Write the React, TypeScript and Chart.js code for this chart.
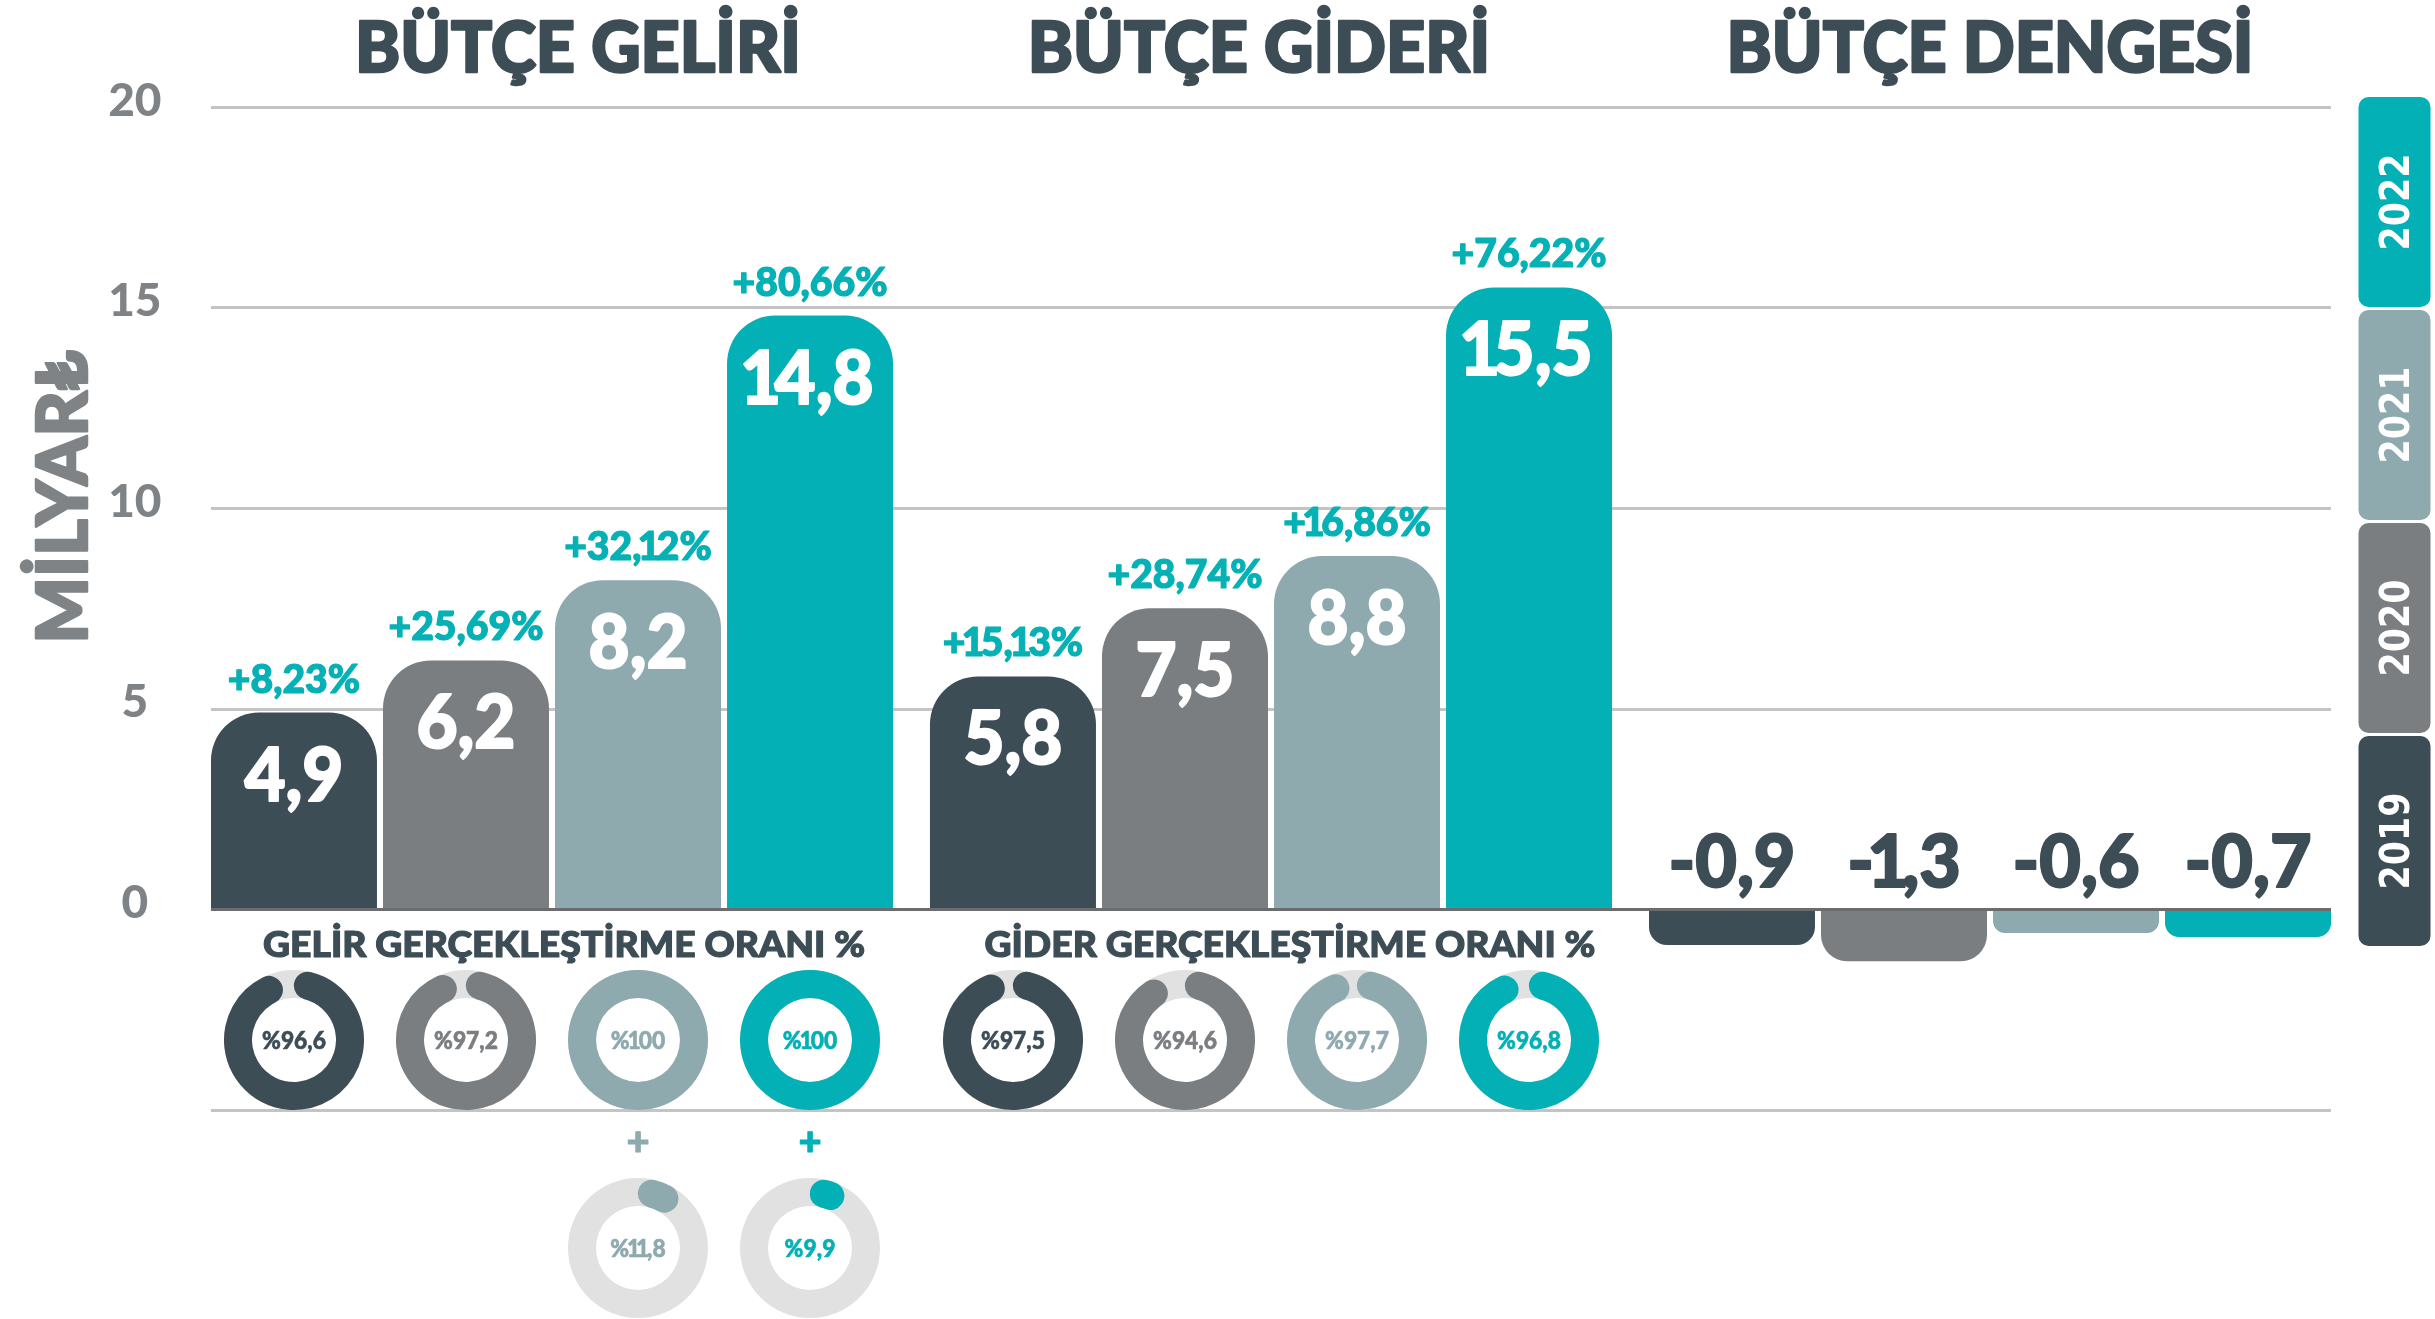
import React, { useEffect, useRef, useState } from 'react';
import { Chart, registerables } from 'chart.js';

Chart.register(...registerables);

// ---------- DATA ----------
const groups = ['BÜTÇE GELİRİ', 'BÜTÇE GİDERİ', 'BÜTÇE DENGESİ'];
const years = ['2019', '2020', '2021', '2022'];
const yearColors = ['#3d4d56', '#7b7e81', '#8eaaae', '#03b0b5'];

// milyar ₺ : [gelir, gider, denge]
const values2019 = [4.9, 5.8, -0.9];
const values2020 = [6.2, 7.5, -1.3];
const values2021 = [8.2, 8.8, -0.6];
const values2022 = [14.8, 15.5, -0.7];

const incomeGrowth = [8.23, 25.69, 32.12, 80.66];
const expenseGrowth = [15.13, 28.74, 16.86, 76.22];

const realizationTitles = ['GELİR GERÇEKLEŞTİRME ORANI %', 'GİDER GERÇEKLEŞTİRME ORANI %'];
const incomeRealization = [96.6, 97.2, 100, 100];
const expenseRealization = [97.5, 94.6, 97.7, 96.8];
const extraIncomeRealization = [null, null, 11.8, 9.9];

const yAxisTitle = 'MİLYAR₺';
const Y_MIN = -5;
const Y_MAX = 20;
const Y_STEP = 5;

// ---------- STYLE ----------
const W = 2435;
const H = 1319;
const DARK = '#3d4d56';
const TEAL = '#05b1b5';
const TICK_GRAY = '#7f8386';
const GRID = '#c4c4c4';
const ZERO_LINE = '#6b6c6e';
const RING = '#e1e1e1';
const HEAVY = '"Lato", "Liberation Sans", "Noto Sans", sans-serif';
const LEGEND_FONT = '"DejaVu Sans Condensed", "DejaVu Sans", sans-serif';
const TITLE_DX = [26, -12, 0];
const SUB_DX = [12, 19];
const DONUT_SIZE = 140;
const ONE_NARROW = 0.68;

const allValues = [values2019, values2020, values2021, values2022];
const growthByGroup = [incomeGrowth, expenseGrowth];
const realizationByGroup = [incomeRealization, expenseRealization];

const fmt1 = (v: number) => v.toFixed(1).replace('.', ',');
const fmtPct = (v: number) => '+' + v.toFixed(2).replace('.', ',') + '%';
const fmtRatio = (v: number) => '%' + (Number.isInteger(v) ? String(v) : fmt1(v));

function factor(ctx: CanvasRenderingContext2D, font: string, sample: string, target: number) {
  ctx.save();
  ctx.font = font;
  const w = ctx.measureText(sample).width;
  ctx.restore();
  return w > 0 ? target / w : 1;
}

type TextOpts = { rot?: number; bold?: number; narrowOne?: boolean };

function drawText(
  ctx: CanvasRenderingContext2D,
  text: string,
  x: number,
  y: number,
  font: string,
  color: string,
  sx: number,
  opts: TextOpts = {}
) {
  const { rot = 0, bold = 0, narrowOne = true } = opts;
  ctx.save();
  ctx.font = font;
  ctx.fillStyle = color;
  ctx.strokeStyle = color;
  ctx.lineWidth = bold;
  ctx.lineJoin = 'round';
  ctx.textBaseline = 'alphabetic';
  ctx.translate(x, y);
  if (rot) ctx.rotate(rot);
  ctx.scale(sx, 1);
  if (narrowOne && text.includes('1')) {
    const chars = Array.from(text);
    const raw = chars.map((c) => ctx.measureText(c).width);
    const adv = chars.map((c, i) => (c === '1' ? raw[i] * ONE_NARROW : raw[i]));
    const total = adv.reduce((a, b) => a + b, 0);
    let cx = -total / 2;
    ctx.textAlign = 'left';
    chars.forEach((c, i) => {
      const px = cx + (adv[i] - raw[i]) / 2;
      ctx.fillText(c, px, 0);
      if (bold) ctx.strokeText(c, px, 0);
      cx += adv[i];
    });
  } else {
    ctx.textAlign = 'center';
    ctx.fillText(text, 0, 0);
    if (bold) ctx.strokeText(text, 0, 0);
  }
  ctx.restore();
}

const F_TITLE = `900 70px ${HEAVY}`;
const F_SUB = `900 36px ${HEAVY}`;
const F_VALUE = `900 75px ${HEAVY}`;
const F_PCT = `900 39px ${HEAVY}`;
const F_NEG = `900 73px ${HEAVY}`;
const F_PLUS = `900 40px ${HEAVY}`;
const F_YTITLE = `900 70px ${HEAVY}`;
const F_LEGEND = `bold 40px ${LEGEND_FONT}`;
const F_DONUT = `900 24px ${HEAVY}`;

const infographicPlugin = {
  id: 'infographic',
  beforeDatasetsDraw(chart: any) {
    const { ctx } = chart;
    const ys = chart.scales.y;
    const first = chart.getDatasetMeta(0).data[0];
    const last = chart.getDatasetMeta(years.length - 1).data[groups.length - 1];
    const x0 = first.x - first.width / 2;
    const x1 = last.x + last.width / 2;
    ctx.save();
    ctx.strokeStyle = GRID;
    ctx.lineWidth = 3;
    for (let v = Y_MIN; v <= Y_MAX; v += Y_STEP) {
      if (v === 0) continue;
      const py = Math.round(ys.getPixelForValue(v)) + 0.5;
      ctx.beginPath();
      ctx.moveTo(x0, py);
      ctx.lineTo(x1, py);
      ctx.stroke();
    }
    ctx.restore();
  },
  afterDatasetsDraw(chart: any) {
    const { ctx, chartArea } = chart;
    const ys = chart.scales.y;
    const xs = chart.scales.x;
    const y0 = ys.getPixelForValue(0);
    const first = chart.getDatasetMeta(0).data[0];
    const last = chart.getDatasetMeta(years.length - 1).data[groups.length - 1];
    const x0 = first.x - first.width / 2;
    const x1 = last.x + last.width / 2;

    // zero line
    ctx.save();
    ctx.strokeStyle = ZERO_LINE;
    ctx.lineWidth = 3;
    ctx.beginPath();
    ctx.moveTo(x0, Math.round(y0) + 0.5);
    ctx.lineTo(x1, Math.round(y0) + 0.5);
    ctx.stroke();
    ctx.restore();

    const sxTitle = factor(ctx, F_TITLE, groups[0], 446);
    const sxSub = factor(ctx, F_SUB, realizationTitles[0], 602);
    const sxValue = factor(ctx, F_VALUE, '4,9', 99);
    const sxPct = factor(ctx, F_PCT, '+80,66%', 155);
    const sxNeg = factor(ctx, F_NEG, '-0,9', 127);
    const sxY = factor(ctx, F_YTITLE, yAxisTitle, 293);
    const sxLeg = factor(ctx, F_LEGEND, '2022', 97);

    // bar labels
    for (let d = 0; d < years.length; d++) {
      const meta = chart.getDatasetMeta(d);
      for (let g = 0; g < groups.length; g++) {
        const el = meta.data[g];
        const v = allValues[d][g];
        if (v > 0) {
          drawText(ctx, fmt1(v), el.x, el.y + 88, F_VALUE, '#ffffff', sxValue, { bold: 2 });
          const gr = growthByGroup[g];
          if (gr) drawText(ctx, fmtPct(gr[d]), el.x, el.y - 20, F_PCT, TEAL, sxPct, { bold: 1.2 });
        } else {
          drawText(ctx, fmt1(v), el.x, y0 - 22, F_NEG, DARK, sxNeg, { bold: 2 });
        }
      }
    }

    // group titles
    groups.forEach((t, g) => {
      drawText(ctx, t, xs.getPixelForValue(g) + TITLE_DX[g], 72, F_TITLE, DARK, sxTitle, { bold: 2.5, narrowOne: false });
    });

    // realization subtitles
    realizationTitles.forEach((t, g) => {
      drawText(ctx, t, xs.getPixelForValue(g) + SUB_DX[g], y0 + 48, F_SUB, DARK, sxSub, { bold: 1.2, narrowOne: false });
    });

    // plus signs for extra income realization
    extraIncomeRealization.forEach((v, d) => {
      if (v == null) return;
      const el = chart.getDatasetMeta(d).data[0];
      drawText(ctx, '+', el.x, y0 + 246, F_PLUS, yearColors[d], 1, { bold: 1 });
    });

    // y-axis title
    drawText(ctx, yAxisTitle, 87, 497, F_YTITLE, TICK_GRAY, sxY, { rot: -Math.PI / 2, bold: 2.5, narrowOne: false });

    // legend boxes (2022 on top)
    const bx = chartArea.right + 9;
    const bw = 72;
    const bh = 210;
    const step = 213;
    const top = chartArea.top - 10;
    for (let i = 0; i < years.length; i++) {
      const d = years.length - 1 - i;
      const by = top + i * step;
      ctx.save();
      ctx.fillStyle = yearColors[d];
      ctx.beginPath();
      (ctx as any).roundRect(bx, by, bw, bh, 10);
      ctx.fill();
      ctx.restore();
      drawText(ctx, years[d], bx + bw / 2 + 14, by + bh / 2, F_LEGEND, '#ffffff', sxLeg, {
        rot: -Math.PI / 2,
        narrowOne: false,
      });
    }
  },
};

function makeDonutPlugin(value: number, color: string) {
  return {
    id: 'donutDecor',
    beforeDatasetsDraw(chart: any) {
      const arc = chart.getDatasetMeta(0).data[0];
      if (!arc) return;
      const { ctx } = chart;
      ctx.save();
      ctx.fillStyle = RING;
      ctx.beginPath();
      ctx.arc(arc.x, arc.y, arc.outerRadius, 0, Math.PI * 2);
      ctx.arc(arc.x, arc.y, arc.innerRadius, 0, Math.PI * 2, true);
      ctx.fill();
      ctx.restore();
    },
    afterDatasetsDraw(chart: any) {
      const arc = chart.getDatasetMeta(0).data[0];
      if (!arc) return;
      const { ctx } = chart;
      const sx = factor(ctx, F_DONUT, '%97,5', 64);
      drawText(ctx, fmtRatio(value), arc.x, arc.y + 8.5, F_DONUT, color, sx, { bold: 0.6 });
    },
  };
}

type DonutSpec = { cx: number; cy: number; value: number; color: string };

function Donut({ cx, cy, value, color }: DonutSpec) {
  const ref = useRef<HTMLCanvasElement>(null);
  useEffect(() => {
    const chart = new Chart(ref.current as HTMLCanvasElement, {
      type: 'doughnut',
      data: {
        labels: ['oran', 'kalan'],
        datasets: [
          {
            data: [value, Math.max(0, 100 - value)],
            backgroundColor: [color, 'rgba(0,0,0,0)'],
            borderWidth: 0,
            borderRadius: (c: any) => (c.dataIndex === 0 && value < 100 ? 14 : 0),
          } as any,
        ],
      },
      options: {
        responsive: false,
        maintainAspectRatio: false,
        animation: false,
        events: [],
        cutout: '60%',
        layout: { padding: 0 },
        plugins: { legend: { display: false }, tooltip: { enabled: false } },
      } as any,
      plugins: [makeDonutPlugin(value, color)],
    });
    return () => chart.destroy();
  }, [value, color]);
  return (
    <canvas
      ref={ref}
      width={DONUT_SIZE}
      height={DONUT_SIZE}
      style={{ position: 'absolute', left: cx - DONUT_SIZE / 2, top: cy - DONUT_SIZE / 2, width: DONUT_SIZE, height: DONUT_SIZE }}
    />
  );
}

export default function App() {
  const canvasRef = useRef<HTMLCanvasElement>(null);
  const [donuts, setDonuts] = useState<DonutSpec[]>([]);

  useEffect(() => {
    const chart = new Chart(canvasRef.current as HTMLCanvasElement, {
      type: 'bar',
      data: {
        labels: groups,
        datasets: years.map((y, d) => ({
          label: y,
          data: allValues[d],
          backgroundColor: yearColors[d],
          borderWidth: 0,
          borderRadius: 48,
          borderSkipped: 'start',
          barPercentage: 0.965,
          categoryPercentage: 0.957,
        })) as any,
      },
      options: {
        responsive: false,
        maintainAspectRatio: false,
        animation: false,
        events: [],
        layout: { padding: { left: 72.5, right: 85.5, top: 107, bottom: H - 1109.5 } },
        plugins: { legend: { display: false }, tooltip: { enabled: false }, title: { display: false } },
        scales: {
          x: { display: false, grid: { display: false } },
          y: {
            min: Y_MIN,
            max: Y_MAX,
            afterFit: (s: any) => {
              s.width = 120;
            },
            afterBuildTicks: (s: any) => {
              s.ticks = s.ticks.filter((t: any) => t.value >= 0);
            },
            grid: { display: false, drawTicks: false },
            border: { display: false },
            ticks: {
              stepSize: Y_STEP,
              padding: 31,
              crossAlign: 'center',
              labelOffset: -6,
              color: TICK_GRAY,
              font: { family: HEAVY, weight: 900, size: 46 },
            },
          },
        },
      } as any,
      plugins: [infographicPlugin],
    });

    const y0 = chart.scales.y.getPixelForValue(0);
    const specs: DonutSpec[] = [];
    realizationByGroup.forEach((arr, g) => {
      arr.forEach((v, d) => {
        const el: any = chart.getDatasetMeta(d).data[g];
        specs.push({ cx: el.x, cy: y0 + 131, value: v, color: yearColors[d] });
      });
    });
    extraIncomeRealization.forEach((v, d) => {
      if (v == null) return;
      const el: any = chart.getDatasetMeta(d).data[0];
      specs.push({ cx: el.x, cy: y0 + 339, value: v, color: yearColors[d] });
    });
    setDonuts(specs);

    return () => chart.destroy();
  }, []);

  return (
    <div style={{ position: 'fixed', left: 0, top: 0, width: W, height: H, background: '#ffffff', overflow: 'hidden' }}>
      <canvas ref={canvasRef} width={W} height={H} style={{ position: 'absolute', left: 0, top: 0, width: W, height: H }} />
      {donuts.map((d, i) => (
        <Donut key={i} cx={d.cx} cy={d.cy} value={d.value} color={d.color} />
      ))}
    </div>
  );
}
